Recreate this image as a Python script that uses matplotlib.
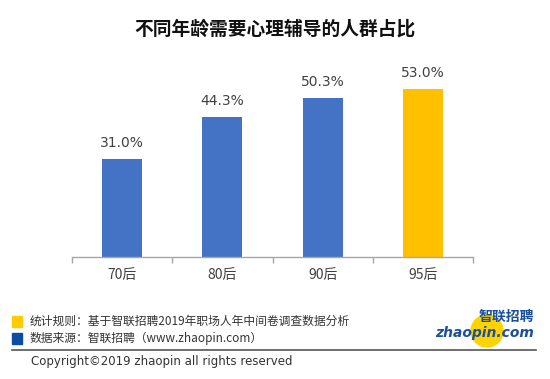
import matplotlib
matplotlib.use("Agg")
import matplotlib.pyplot as plt
from matplotlib.patches import Rectangle, Circle

plt.rcParams['font.family'] = ['Noto Sans CJK SC', 'DejaVu Sans']

title = "不同年龄需要心理辅导的人群占比"
categories = ["70后", "80后", "90后", "95后"]
values = [31.0, 44.3, 50.3, 53.0]
labels = ["31.0%", "44.3%", "50.3%", "53.0%"]
colors = ["#4472C4", "#4472C4", "#4472C4", "#FFC000"]
legend_items = ["统计规则：基于智联招聘2019年职场人年中间卷调查数据分析",
                "数据来源：智联招聘（www.zhaopin.com）"]
legend_colors = ["#FFCC00", "#0A4DA2"]
copyright_text = "Copyright©2019 zhaopin all rights reserved"

W, H = 550, 379
fig = plt.figure(figsize=(W / 100, H / 100), dpi=100)
fig.patch.set_facecolor("white")

left, right, base, top = 72, 473, 257, 67
ax = fig.add_axes([left / W, (H - base) / H, (right - left) / W, (base - top) / H])
ax.set_xlim(-0.5, 3.5)
ax.set_ylim(0, 60)
x = list(range(len(categories)))
ax.bar(x, values, width=0.4, color=colors, zorder=2)
for i, (v, lab) in enumerate(zip(values, labels)):
    ax.text(i, v + 5, lab, ha="center", va="center", fontsize=10,
            color="#404040", family="DejaVu Sans")

for s in ["top", "right", "left"]:
    ax.spines[s].set_visible(False)
ax.spines["bottom"].set_color("#A6A6A6")
ax.spines["bottom"].set_linewidth(1.0)
ax.set_yticks([])
ax.set_xticks(x)
ax.set_xticklabels(categories, fontsize=10, color="#404040")
ax.tick_params(axis="x", which="major", length=0, pad=8)
ax.set_xticks([-0.5, 0.5, 1.5, 2.5, 3.5], minor=True)
ax.tick_params(axis="x", which="minor", length=4, color="#A6A6A6", width=1.0)

ov = fig.add_axes([0, 0, 1, 1], zorder=-1)
ov.set_xlim(0, W)
ov.set_ylim(H, 0)
ov.axis("off")

fig.text(275 / W, 1 - 29 / H, title, ha="center", va="center", fontsize=13.5,
         fontweight="bold", color="#111111")

ys = [321, 338]
for yy, txt, c in zip(ys, legend_items, legend_colors):
    ov.add_patch(Rectangle((12, yy - 5.5), 10, 11, color=c))
    ov.text(30, yy, txt, ha="left", va="center", fontsize=8.5, color="#333333")

ov.plot([12, 536], [350, 350], color="#555555", lw=1.2)
ov.text(31, 362, copyright_text, ha="left", va="center", fontsize=8.5,
        color="#333333", family="DejaVu Sans")

# logo
ov.add_patch(Circle((487, 331), 16, color="#FFD200", zorder=1))
ov.text(506, 317, "智联招聘", ha="center", va="center", fontsize=10,
        fontweight="bold", style="italic", color="#1A4FA0", zorder=3)
ov.text(485, 333, "zhaopin.com", ha="center", va="center", fontsize=10,
        fontweight="bold", style="italic", color="#1A4FA0", family="DejaVu Sans", zorder=3)

fig.savefig("out.png", dpi=100, facecolor="white")
